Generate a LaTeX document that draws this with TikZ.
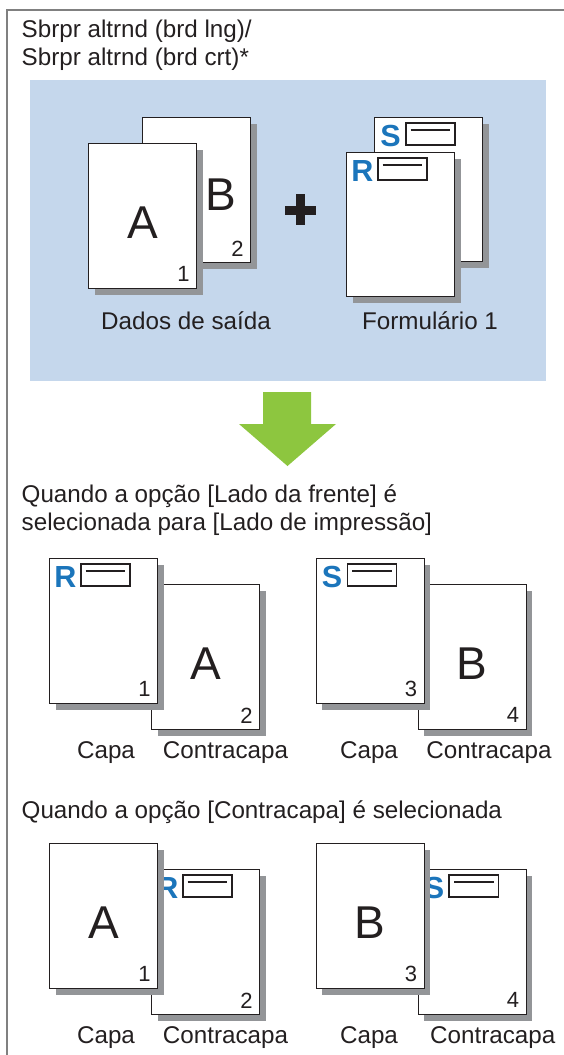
\documentclass[tikz,border=0pt]{standalone}
\usepackage{fontspec}
\setmainfont{Liberation Sans}
\usetikzlibrary{shadows,calc}
\definecolor{bgblue}{RGB}{197,215,236}
\definecolor{rblue}{RGB}{27,117,187}
\definecolor{agreen}{RGB}{141,198,63}
\definecolor{shgray}{RGB}{147,149,152}
\definecolor{ink}{RGB}{35,31,32}
\definecolor{framegray}{RGB}{128,128,128}
\tikzset{
  pagebox/.style={rectangle, draw=ink, line width=1.4pt, fill=white,
    minimum width=108pt, minimum height=145pt, inner sep=0pt, anchor=north west,
    drop shadow={shadow xshift=6pt, shadow yshift=-6pt, fill=shgray, opacity=1, draw=none}},
  txt/.style={inner sep=0pt, font=\fontsize{24.2}{28}\selectfont, text=ink},
  big/.style={inner sep=0pt, font=\fontsize{46}{46}\selectfont, text=ink},
  num/.style={inner sep=0pt, font=\fontsize{22}{22}\selectfont, text=ink},
  hdr/.style={inner sep=0pt, font=\bfseries\fontsize{30.5}{30.5}\selectfont, text=rblue, anchor=base},
  fieldbox/.style={draw=ink, line width=1.6pt, fill=white},
  fieldline/.style={draw=ink, line width=1.8pt},
}
\newcommand\formhead[2]{%
  \node[hdr] (#1-l) at ($(#1.north west)+(16.5,29.5)$) {#2};
  \draw[fieldbox] ($(#1.north west)+(31.7,5.7)$) rectangle ($(#1.north west)+(81,27.7)$);
  \draw[fieldline] ($(#1.north west)+(36.7,12.7)$) -- ($(#1.north west)+(76,12.7)$);
}
\newcommand\pgnum[2]{\node[num] (#1-n) at ($(#1.south east)+(-14,-15)$) {#2};}
\newcommand\pgbig[2]{\node[big] (#1-b) at ($(#1.center)+(0,6)$) {#2};}
\begin{document}
\begin{tikzpicture}[x=1pt,y=-1pt]
\useasboundingbox (0,0) rectangle (564,1055);
% frame
\draw[framegray, line width=1.5pt] (7,1060) -- (7,10) -- (570,10);
% title
\node[txt, anchor=base west] (t1) at (21.5,37) {Sbrpr altrnd (brd lng)/};
\node[txt, anchor=base west] (t2) at (21.5,65) {Sbrpr altrnd (brd crt)*};
% blue panel
\fill[bgblue] (30,80) rectangle (546,381);
% data pages
\node[pagebox] (dB) at (142,117) {};
\node[big] (dB-b) at (221,195) {B};
\pgnum{dB}{2}
\node[pagebox] (dA) at (88,143) {};
\pgbig{dA}{A}
\pgnum{dA}{1}
% plus
\fill[ink] (285,205.5) rectangle (316,214.5);
\fill[ink] (296,194) rectangle (305,225);
% form pages
\node[pagebox, minimum height=144pt] (fS) at (374,117) {};
\formhead{fS}{S}
\node[pagebox, minimum height=144pt] (fR) at (346,152) {};
\formhead{fR}{R}
\node[txt, anchor=base] (lab1) at (186,329) {Dados de saída};
\node[txt, anchor=base] (lab2) at (430,329) {Formulário 1};
% arrow
\fill[agreen] (263,392) -- (311,392) -- (311,424) -- (336,424) -- (287.5,466) -- (239,424) -- (263,424) -- cycle;
% section 2
\node[txt, anchor=base west] (s1a) at (21.5,502) {Quando a opção [Lado da frente] é};
\node[txt, anchor=base west] (s1b) at (21.5,530) {selecionada para [Lado de impressão]};
\node[pagebox] (p2) at (151,584) {};
\pgbig{p2}{A}
\pgnum{p2}{2}
\node[pagebox] (p1) at (49,558) {};
\formhead{p1}{R}
\pgnum{p1}{1}
\node[pagebox] (p4) at (417.5,584) {};
\pgbig{p4}{B}
\pgnum{p4}{4}
\node[pagebox] (p3) at (315.6,558) {};
\formhead{p3}{S}
\pgnum{p3}{3}
\node[txt, anchor=base] (c1) at (106,758) {Capa};
\node[txt, anchor=base] (c2) at (225.5,758) {Contracapa};
\node[txt, anchor=base] (c3) at (369,758) {Capa};
\node[txt, anchor=base] (c4) at (489,758) {Contracapa};
% section 3
\node[txt, anchor=base west] (s2a) at (21.5,818) {Quando a opção [Contracapa] é selecionada};
\node[pagebox] (q2) at (151,869) {};
\formhead{q2}{R}
\pgnum{q2}{2}
\node[pagebox] (q1) at (49,843) {};
\pgbig{q1}{A}
\pgnum{q1}{1}
\node[pagebox] (q4) at (417.5,869) {};
\formhead{q4}{S}
\pgnum{q4}{4}
\node[pagebox] (q3) at (315.6,843) {};
\pgbig{q3}{B}
\pgnum{q3}{3}
\node[txt, anchor=base] (d1) at (106,1043) {Capa};
\node[txt, anchor=base] (d2) at (225.5,1043) {Contracapa};
\node[txt, anchor=base] (d3) at (369,1043) {Capa};
\node[txt, anchor=base] (d4) at (492.7,1043) {Contracapa};
\end{tikzpicture}
\end{document}
